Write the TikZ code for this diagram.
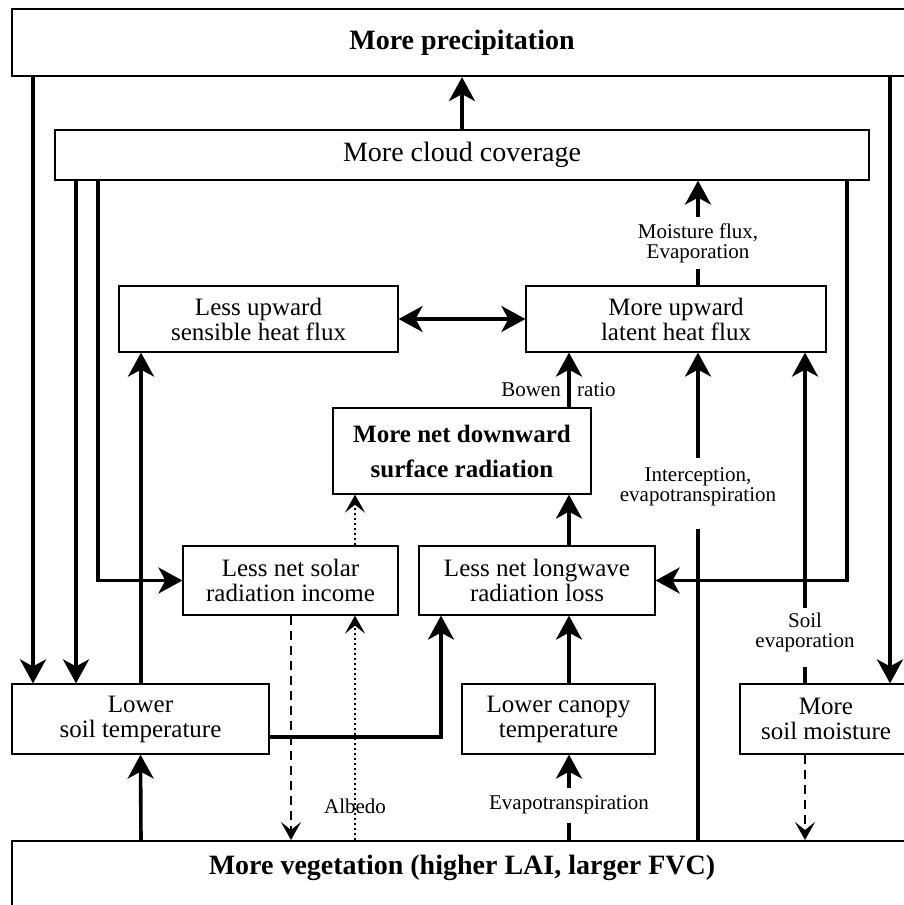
\documentclass[tikz,border=0pt]{standalone}
\usepackage{fontspec}
\setmainfont{Liberation Serif}
\usetikzlibrary{arrows.meta}
\begin{document}
\begin{tikzpicture}[x=1pt,y=-1pt,
  box/.style={draw, line width=1.2pt, inner sep=0pt, align=center, font=\fontsize{25}{25}\selectfont},
  bigbox/.style={draw, line width=2.2pt, inner sep=0pt},
  bigtext/.style={font=\fontsize{28}{29}\selectfont\bfseries},
  lab/.style={inner sep=0pt, align=center, font=\fontsize{21}{20}\selectfont},
  plain/.style={line width=3.6pt},
  arr/.style={line width=3.6pt, -{Stealth[length=24pt,width=26pt,inset=7pt]}},
  dblarr/.style={line width=3.6pt, {Stealth[length=24pt,width=26pt,inset=7pt]}-{Stealth[length=24pt,width=26pt,inset=7pt]}},
  dasharr/.style={line width=2.2pt, dash pattern=on 9pt off 6pt, -{Stealth[length=18pt,width=20pt,inset=8pt]}},
  dotarr/.style={line width=2.5pt, dash pattern=on 2.5pt off 2.5pt, -{Stealth[length=18pt,width=20pt,inset=8pt]}},
]
\useasboundingbox (0,0) rectangle (904,905);

% columns
\coordinate (c33) at (33,0);
\coordinate (c76) at (76,0);
\coordinate (c98) at (98,0);
\coordinate (c141) at (141,0);
\coordinate (c291) at (291,0);
\coordinate (c355) at (355,0);
\coordinate (c441) at (441,0);
\coordinate (c569) at (569,0);
\coordinate (c698) at (698,0);
\coordinate (c805) at (805,0);
\coordinate (c847) at (847,0);
\coordinate (c890) at (890,0);
\coordinate (r737) at (0,737);

% boxes
\node[bigbox, bigtext, minimum width=900pt, minimum height=67pt] (precip) at (462,42.5) {More precipitation};
\node[box, font=\fontsize{28}{29}\selectfont, minimum width=814pt, minimum height=50pt] (cloud) at (462,155) {More cloud coverage};
\node[box, minimum width=279pt, minimum height=66pt] (sens) at (258.5,319) {Less upward\\sensible heat flux};
\node[box, minimum width=300pt, minimum height=66pt] (lat) at (676,319) {More upward\\latent heat flux};
\node[box, font=\fontsize{25}{35}\selectfont\bfseries, minimum width=258pt, minimum height=86pt] (net) at (462,451) {More net downward\\surface radiation};
\node[box, minimum width=215pt, minimum height=69pt] (solar) at (290.5,580.5) {Less net solar\\radiation income};
\node[box, minimum width=236pt, minimum height=69pt] (long) at (537,580.5) {Less net longwave\\radiation loss};
\node[box, minimum width=257pt, minimum height=70pt] (soilT) at (140.5,719) {Lower\\soil temperature};
\node[box, minimum width=193pt, minimum height=70pt] (canopy) at (558.5,719) {Lower canopy\\temperature};
\node[box, minimum width=172pt, minimum height=70pt] (soilM) at (826,719) {More\\soil moisture};
\node[bigbox, minimum width=900pt, minimum height=120pt, anchor=north] (veg) at (462,840) {};
\node[bigtext] (vegtext) at (462,868) {More vegetation (higher LAI, larger FVC)};

% labels
\node[lab] (mflab) at (698,243) {Moisture flux,\\Evaporation};
\node[lab, anchor=east] (bowen) at (561,390) {Bowen};
\node[lab, anchor=west] (ratio) at (577,390) {ratio};
\node[lab] (iclab) at (698,487) {Interception,\\evapotranspiration};
\node[lab] (selab) at (805,632) {Soil\\evaporation};
\node[lab] (albedo) at (355,806) {Albedo};
\node[lab] (evlab) at (569,805) {Evapotranspiration};

\coordinate (mf1) at (698,269);
\coordinate (mf2) at (698,217);
\coordinate (ic1) at (698,458);
\coordinate (ic2) at (698,529);
\coordinate (se1) at (805,608);
\coordinate (se2) at (805,667);
\coordinate (ev1) at (569,788);
\coordinate (ev2) at (569,823);

% connectors
\draw[arr] (cloud.north) -- (precip.south);
\draw[arr] (c33 |- precip.south) -- (c33 |- soilT.north);
\draw[arr] (c890 |- precip.south) -- (c890 |- soilM.north);
\draw[arr] (c76 |- cloud.south) -- (c76 |- soilT.north);
\draw[arr] (c98 |- cloud.south) |- (solar.west);
\draw[arr] (c847 |- cloud.south) |- (long.east);
\draw[plain] (c698 |- lat.north) -- (mf1);
\draw[arr] (mf2) -- (c698 |- cloud.south);
\draw[dblarr] (sens.east) -- (lat.west);
\draw[arr] (c141 |- soilT.north) -- (c141 |- sens.south);
\draw[arr] (c569 |- net.north) -- (c569 |- lat.south);
\draw[arr] (c569 |- long.north) -- (c569 |- net.south);
\draw[dotarr] (c355 |- solar.north) -- (c355 |- net.south);
\draw[plain] (c698 |- veg.north) -- (ic2);
\draw[arr] (ic1) -- (c698 |- lat.south);
\draw[plain] (c805 |- soilM.north) -- (se2);
\draw[arr] (se1) -- (c805 |- lat.south);
\draw[arr] (soilT.east |- r737) -| (c441 |- long.south);
\draw[arr] (c141 |- veg.north) -- (soilT.south);
\draw[dasharr] (c291 |- solar.south) -- (c291 |- veg.north);
\draw[dotarr] (c355 |- veg.north) -- (c355 |- solar.south);
\draw[plain] (c569 |- veg.north) -- (ev2);
\draw[arr] (ev1) -- (c569 |- canopy.south);
\draw[arr] (c569 |- canopy.north) -- (c569 |- long.south);
\draw[dasharr] (c805 |- soilM.south) -- (c805 |- veg.north);
\end{tikzpicture}
\end{document}
